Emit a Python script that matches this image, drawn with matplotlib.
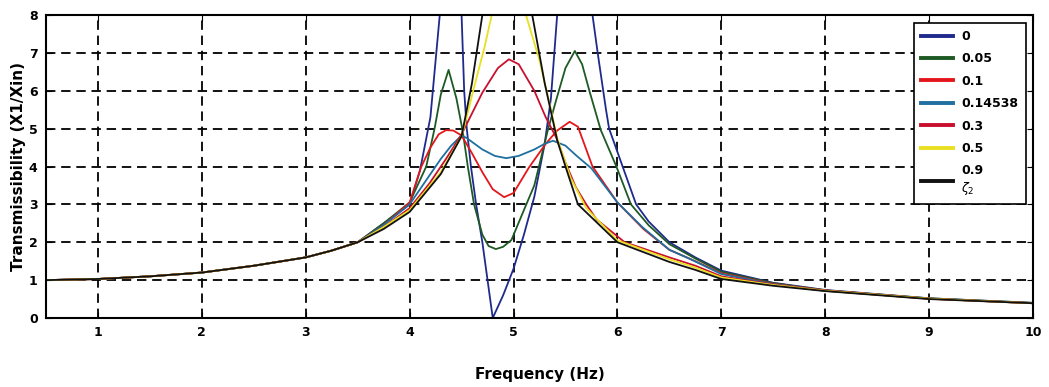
import matplotlib
matplotlib.use("Agg")
import matplotlib.pyplot as plt

# shared low-frequency part (all curves coincide there)
freq_low = [0.5, 1.0, 1.5, 2.0, 2.5, 3.0, 3.25, 3.5]
trans_low = [1.0, 1.03, 1.1, 1.2, 1.38, 1.6, 1.78, 2.0]

# zeta2 = 0
f_z0 = [3.75, 4.0, 4.1, 4.2, 4.29, 4.39, 4.50, 4.525, 4.55, 4.59, 4.64, 4.70, 4.75, 4.80,
        4.90, 5.0, 5.1, 5.2, 5.3, 5.36, 5.42, 5.59, 5.76, 5.81, 5.89, 5.92, 6.05, 6.18,
        6.3, 6.5, 6.75, 7.0, 7.5, 8.0, 9.0, 10.0]
t_z0 = [2.5, 3.0, 3.9, 5.3, 8.0, 14.0, 8.0, 6.0, 5.0, 4.0, 3.0, 2.0, 1.0, 0.0,
        0.6, 1.3, 2.2, 3.2, 4.6, 5.8, 8.0, 14.0, 8.0, 7.0, 5.5, 5.0, 4.0, 3.0,
        2.55, 2.0, 1.6, 1.25, 0.93, 0.74, 0.52, 0.4]

# zeta2 = 0.05
f_z005 = [3.75, 4.0, 4.16, 4.24, 4.30, 4.375, 4.45, 4.51, 4.56, 4.62, 4.70, 4.76, 4.83,
          4.90, 4.98, 5.1, 5.2, 5.33, 5.41, 5.5, 5.59, 5.66, 5.73, 5.84, 5.99, 6.13,
          6.3, 6.5, 6.75, 7.0, 7.5, 8.0, 9.0, 10.0]
t_z005 = [2.5, 3.05, 4.0, 5.0, 5.9, 6.55, 5.8, 4.95, 4.0, 3.0, 2.2, 1.9, 1.82,
          1.88, 2.06, 2.85, 3.5, 4.96, 5.75, 6.6, 7.05, 6.7, 6.0, 4.96, 4.0, 3.0,
          2.45, 1.95, 1.57, 1.22, 0.92, 0.73, 0.52, 0.4]

# zeta2 = 0.1
f_z01 = [3.75, 4.0, 4.11, 4.2, 4.28, 4.35, 4.42, 4.5, 4.6, 4.7, 4.8, 4.91, 5.0, 5.15,
         5.31, 5.42, 5.54, 5.62, 5.76, 6.0, 6.25, 6.5, 6.75, 7.0, 7.5, 8.0, 9.0, 10.0]
t_z01 = [2.45, 3.05, 3.98, 4.5, 4.85, 4.96, 4.95, 4.82, 4.35, 3.85, 3.4, 3.19, 3.3, 3.98,
         4.6, 4.95, 5.18, 5.05, 4.0, 3.05, 2.35, 1.8, 1.5, 1.18, 0.9, 0.73, 0.51, 0.39]

# zeta2 = 0.14538 (optimum)
f_z0145 = [3.75, 4.0, 4.2, 4.3, 4.4, 4.5, 4.55, 4.7, 4.82, 4.93, 5.05, 5.2, 5.3, 5.38,
           5.5, 5.6, 5.75, 6.0, 6.24, 6.5, 6.69, 7.0, 7.5, 8.0, 9.0, 10.0]
t_z0145 = [2.45, 3.0, 3.8, 4.2, 4.55, 4.82, 4.75, 4.45, 4.28, 4.22, 4.28, 4.45, 4.6, 4.68,
           4.55, 4.3, 3.95, 3.05, 2.4, 1.8, 1.57, 1.16, 0.89, 0.72, 0.51, 0.39]

# zeta2 = 0.3
f_z03 = [3.75, 4.0, 4.19, 4.35, 4.5, 4.6, 4.7, 4.85, 4.955, 5.05, 5.2, 5.31, 5.41,
         5.5, 5.6, 5.7, 5.8, 6.07, 6.5, 6.75, 7.0, 7.5, 8.0, 9.0, 10.0]
t_z03 = [2.4, 2.9, 3.55, 4.2, 4.85, 5.4, 5.95, 6.6, 6.83, 6.7, 6.0, 5.3, 4.77,
         4.1, 3.45, 3.0, 2.6, 2.0, 1.6, 1.38, 1.1, 0.88, 0.72, 0.51, 0.39]

# zeta2 = 0.5
f_z05 = [3.75, 4.0, 4.3, 4.5, 4.53, 4.62, 4.72, 4.79, 4.95, 5.12, 5.25, 5.36, 5.42,
         5.55, 5.7, 6.0, 6.5, 6.75, 7.0, 7.5, 8.0, 9.0, 10.0]
t_z05 = [2.4, 2.85, 3.85, 4.8, 5.1, 6.09, 7.14, 8.0, 9.8, 8.0, 6.8, 5.5, 4.75,
         3.7, 2.9, 2.05, 1.55, 1.33, 1.07, 0.87, 0.72, 0.51, 0.39]

# zeta2 = 0.9
f_z09 = [3.75, 4.0, 4.3, 4.5, 4.6, 4.70, 4.94, 5.18, 5.3, 5.42, 5.5, 5.62, 6.0,
         6.5, 6.75, 7.0, 7.5, 8.0, 9.0, 10.0]
t_z09 = [2.35, 2.8, 3.8, 4.8, 6.2, 8.0, 12.0, 8.0, 6.2, 4.7, 4.0, 3.0, 2.0,
         1.48, 1.27, 1.03, 0.85, 0.71, 0.5, 0.39]

labels = ['0', '0.05', '0.1', '0.14538', '0.3', '0.5', '0.9\n$\\zeta_2$']
colors = ['#1f2a8c', '#1e5a24', '#e3161b', '#1f6fa0', '#c8102e', '#e8e020', '#111111']
curves = [(f_z0, t_z0), (f_z005, t_z005), (f_z01, t_z01), (f_z0145, t_z0145),
          (f_z03, t_z03), (f_z05, t_z05), (f_z09, t_z09)]

fig = plt.figure(figsize=(10.49, 3.87), dpi=100)
ax = fig.add_axes([46/1049, 1-318/387, (1033-46)/1049, (318-15)/387])

for (f, t), c, lab in zip(curves, colors, labels):
    ax.plot(freq_low + f, trans_low + t, color=c, lw=1.3, label=lab)

ax.set_xlim(0.5, 10)
ax.set_ylim(0, 8)
ax.set_xticks(range(1, 11))
ax.set_yticks(range(0, 9))
ax.grid(True, color='black', linestyle=(0, (5.2, 3.2)), linewidth=1.3)
ax.tick_params(direction='in', length=4, top=True, right=True, labelsize=9, pad=6)
for lbl in ax.get_xticklabels() + ax.get_yticklabels():
    lbl.set_fontweight('bold')
for s in ax.spines.values():
    s.set_linewidth(1.5)

ax.set_xlabel('Frequency (Hz)', fontsize=11, fontweight='bold', labelpad=20)
ax.set_ylabel('Transmissibility (X1/Xin)', fontsize=11, fontweight='bold')
ax.yaxis.set_label_coords(-0.0203, 0.5)

leg = ax.legend(loc='upper right', prop={'size': 9, 'weight': 'bold'}, fancybox=False,
                framealpha=1, edgecolor='black', borderaxespad=0.6, handlelength=2.56,
                handletextpad=0.64, labelspacing=0.75, borderpad=0.6)
leg.get_frame().set_linewidth(1.2)
for l in leg.get_lines():
    l.set_linewidth(2.8)

fig.savefig('out.png', dpi=100)
